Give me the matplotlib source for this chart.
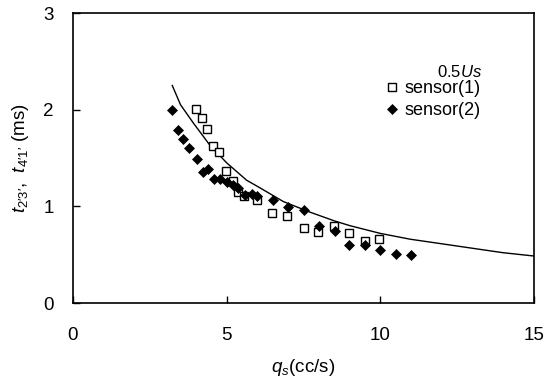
import matplotlib
matplotlib.use("Agg")
import matplotlib.pyplot as plt

plt.rcParams['font.family'] = ['Liberation Sans', 'DejaVu Sans']
plt.rcParams['mathtext.fontset'] = 'custom'
plt.rcParams['mathtext.rm'] = 'Liberation Sans'
plt.rcParams['mathtext.it'] = 'Liberation Sans:italic'
plt.rcParams['mathtext.bf'] = 'Liberation Sans:bold'

# sensor(1) - open squares
s1_x = [4.0, 4.19, 4.37, 4.57, 4.76, 4.99, 5.20, 5.36, 5.58, 6.0, 6.47, 6.97, 7.5, 7.98, 8.5, 8.98, 9.5, 9.97]
s1_y = [2.01, 1.91, 1.80, 1.62, 1.56, 1.365, 1.26, 1.15, 1.11, 1.065, 0.93, 0.90, 0.78, 0.73, 0.80, 0.72, 0.64, 0.66]

# sensor(2) - filled diamonds
s2_x = [3.21, 3.41, 3.59, 3.79, 4.03, 4.22, 4.40, 4.60, 4.78, 5.02, 5.22, 5.38, 5.60, 5.81, 6.0, 6.5, 7.0, 7.52, 8.02, 8.53, 8.99, 9.5, 9.99, 10.5, 10.99]
s2_y = [2.00, 1.79, 1.70, 1.60, 1.49, 1.355, 1.39, 1.28, 1.28, 1.25, 1.22, 1.19, 1.12, 1.13, 1.11, 1.07, 0.99, 0.965, 0.80, 0.745, 0.605, 0.605, 0.545, 0.51, 0.50]

# fitted curve
c_x = [3.23, 3.5, 3.92, 4.46, 5.0, 5.65, 6.09, 6.84, 7.71, 8.5, 9.01, 10.0, 10.97, 11.62, 12.27, 13.24, 14.0, 15.0]
c_y = [2.25, 2.05, 1.86, 1.63, 1.45, 1.27, 1.19, 1.05, 0.94, 0.85, 0.80, 0.72, 0.66, 0.63, 0.60, 0.555, 0.52, 0.486]

x_ticks = [0, 5, 10, 15]
y_ticks = [0, 1, 2, 3]

fig = plt.figure(figsize=(5.55, 3.85), dpi=100)
ax = fig.add_axes([73/555, 1-303/385, (534-73)/555, (303-13)/385])

ax.plot(c_x, c_y, color='black', lw=1.0, zorder=2)
ax.plot(s1_x, s1_y, linestyle='none', marker='s', ms=5.3, mfc='white', mec='black', mew=1.0,
        label='sensor(1)', zorder=3)
ax.plot(s2_x, s2_y, linestyle='none', marker='D', ms=4.6, mfc='black', mec='black', mew=0.5,
        label='sensor(2)', zorder=4)

ax.set_xlim(0, 15)
ax.set_ylim(0, 3)
ax.set_xticks(x_ticks)
ax.set_yticks(y_ticks)
ax.tick_params(direction='in', length=5, width=1, labelsize=13.5, top=False, right=False)
ax.tick_params(axis='x', pad=17)
ax.tick_params(axis='y', pad=14)
for sp in ax.spines.values():
    sp.set_linewidth(1.2)

ax.set_xlabel(r"$q_s$(cc/s)", fontsize=13.5, labelpad=10)
ax.set_ylabel(r"$t_{2\prime3\prime}$,  $t_{4\prime1\prime}$ (ms)", fontsize=13.5, labelpad=9)

ax.text((460-73)/461, (303-72)/290, r"0.5$\mathit{Us}$", transform=ax.transAxes,
        ha='center', va='center', fontsize=12)
ax.legend(loc='upper left', bbox_to_anchor=((386-73)/461, (303-80)/290), frameon=False,
          fontsize=13, handlelength=0.7, handletextpad=0.35, labelspacing=0.3,
          borderpad=0, borderaxespad=0)

fig.savefig("out.png", dpi=100)
